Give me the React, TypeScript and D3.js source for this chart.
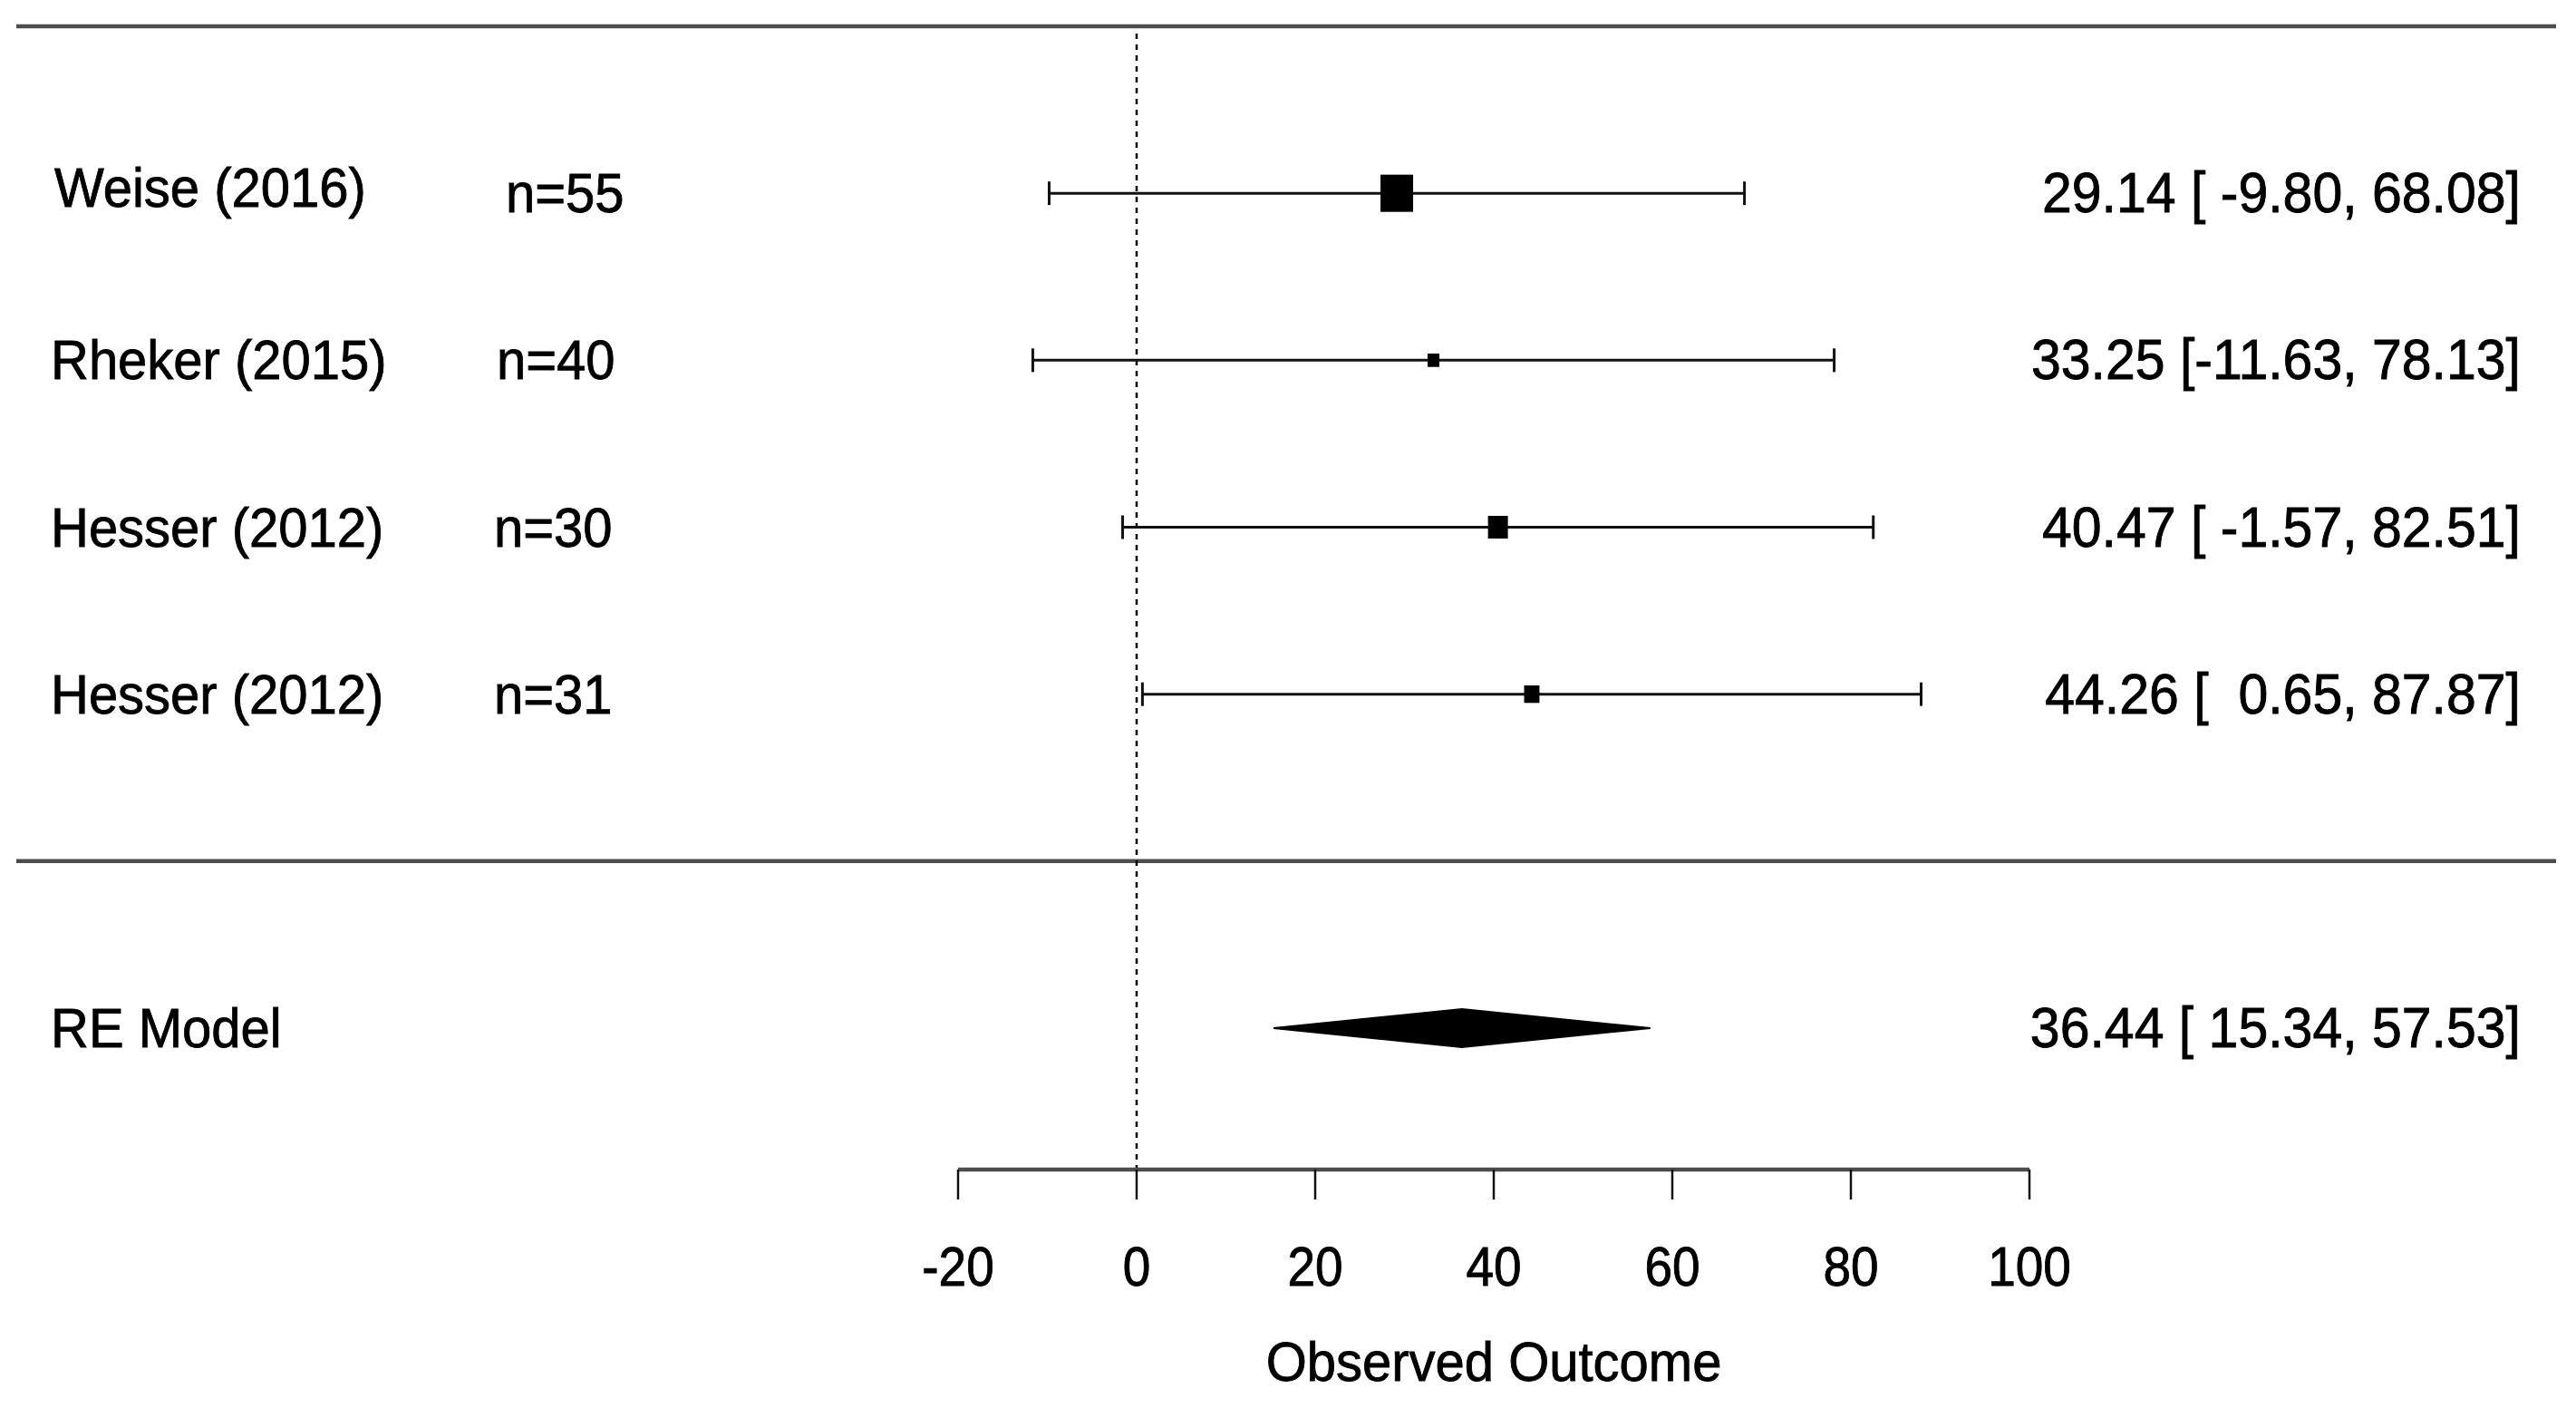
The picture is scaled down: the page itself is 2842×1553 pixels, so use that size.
import React from "react";
import * as d3 from "d3";

const studies = ["Weise (2016)", "Rheker (2015)", "Hesser (2012)", "Hesser (2012)"];
const sampleSizes = ["n=55", "n=40", "n=30", "n=31"];
const estimates = [29.14, 33.25, 40.47, 44.26];
const lowerCI = [-9.8, -11.63, -1.57, 0.65];
const upperCI = [68.08, 78.13, 82.51, 87.87];
const relWeights = [100, 36, 61, 47];
const modelLabel = "RE Model";
const modelEst = 36.44;
const modelLower = 15.34;
const modelUpper = 57.53;
const xTicks = [-20, 0, 20, 40, 60, 80, 100];
const xLabel = "Observed Outcome";

const W = 2842;
const H = 1553;
const FONT = "'Liberation Sans', Arial, Helvetica, sans-serif";

const fmtCI = (est: number, lo: number, hi: number) =>
  `${est.toFixed(2)} [${lo.toFixed(2).padStart(6, " ")}, ${hi.toFixed(2).padStart(5, " ")}]`;

function T({ x, y, anchor = "start", size = 58, sy = 1.06, children }: any) {
  return (
    <text
      transform={`translate(${x},${y}) scale(1,${sy})`}
      textAnchor={anchor}
      fontFamily={FONT}
      fontSize={size}
      fill="#000"
      stroke="#000"
      strokeWidth={0.8}
      style={{ whiteSpace: "pre" }}
    >
      {children}
    </text>
  );
}

export default function App() {
  const x = d3.scaleLinear().domain([-20, 100]).range([1057, 2239]);
  const k = studies.length;
  const y = d3.scaleLinear().domain([k + 1, -1]).range([29, 1134]);
  const sqW = d3.scaleLinear().domain([0, 100]).range([0, 36]);
  const sqH = d3.scaleLinear().domain([0, 100]).range([0, 41]);
  const axisY = 1290;
  const lineL = 18;
  const lineR = 2820;
  const leftX = 56;
  const nX = 545;
  const rightX = 2781;
  const base = 21;
  const diamondH = 21;

  const diamond = d3.line()([
    [x(modelLower), y(-1)],
    [x(modelEst), y(-1) - diamondH],
    [x(modelUpper), y(-1)],
    [x(modelEst), y(-1) + diamondH],
  ]) + "Z";

  return (
    <svg
      width={W}
      height={H}
      style={{ position: "absolute", left: 0, top: 0, background: "#fff" }}
    >
      <rect width={W} height={H} fill="#fff" />
      <line x1={lineL} x2={lineR} y1={y(k + 1)} y2={y(k + 1)} stroke="#4d4d4d" strokeWidth={4.5} />
      <line x1={lineL} x2={lineR} y1={y(0)} y2={y(0)} stroke="#4d4d4d" strokeWidth={4.5} />
      <line
        x1={x(0)}
        x2={x(0)}
        y1={y(k + 1) + 8}
        y2={axisY}
        stroke="#000"
        strokeWidth={2.5}
        strokeDasharray="6,6"
      />
      {studies.map((s, i) => {
        const r = k - i;
        const yy = y(r);
        const w = sqW(relWeights[i]);
        const h = sqH(relWeights[i]);
        const off = i === 0 ? -6 : 0;
        return (
          <g key={i}>
            <line x1={x(lowerCI[i])} x2={x(upperCI[i])} y1={yy} y2={yy} stroke="#111" strokeWidth={3} />
            <line x1={x(lowerCI[i])} x2={x(lowerCI[i])} y1={yy - 13} y2={yy + 13} stroke="#111" strokeWidth={3} />
            <line x1={x(upperCI[i])} x2={x(upperCI[i])} y1={yy - 13} y2={yy + 13} stroke="#111" strokeWidth={3} />
            <rect x={x(estimates[i]) - w / 2} y={yy - h / 2} width={w} height={h} fill="#000" />
            <T x={leftX + (i === 0 ? 4 : 0)} y={yy + base + off}>{s}</T>
            <T x={nX + (i === 0 ? 13 : i === 1 ? 3 : 0)} y={yy + base}>{sampleSizes[i]}</T>
            <T x={rightX} y={yy + base} anchor="end" size={59}>{fmtCI(estimates[i], lowerCI[i], upperCI[i])}</T>
          </g>
        );
      })}
      <path d={diamond} fill="#000" stroke="#000" strokeWidth={2} />
      <T x={leftX} y={y(-1) + base}>{modelLabel}</T>
      <T x={rightX} y={y(-1) + base} anchor="end" size={59}>{fmtCI(modelEst, modelLower, modelUpper)}</T>
      <line x1={x(-20)} x2={x(100)} y1={axisY} y2={axisY} stroke="#4d4d4d" strokeWidth={4.5} />
      {xTicks.map((t) => (
        <g key={t}>
          <line x1={x(t)} x2={x(t)} y1={axisY} y2={axisY + 33} stroke="#111" strokeWidth={2.5} />
          <T x={x(t)} y={1418} anchor="middle" size={55} sy={1.1}>{String(t)}</T>
        </g>
      ))}
      <T x={(x(-20) + x(100)) / 2} y={1523} anchor="middle" size={58} sy={1.05}>{xLabel}</T>
    </svg>
  );
}
